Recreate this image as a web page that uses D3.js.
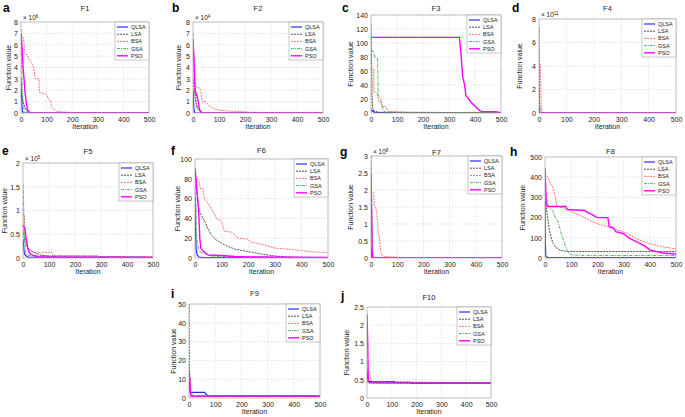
<!DOCTYPE html>
<html>
<head>
<meta charset="utf-8">
<script src="https://cdn.jsdelivr.net/npm/d3@7"></script>
<style>
  body { margin: 0; background: #fff; font-family: "Liberation Sans", Arial, sans-serif; }
</style>
</head>
<body>
<div id="chart"></div>
<script>
// Series names and iteration ticks
const seriesNames = ["QLSA", "LSA", "BSA", "GSA", "PSO"];
const xTicks = [0, 100, 200, 300, 400, 500];

// Convergence curves: [iteration, value]
const f1 = {
  QLSA: [[0,3],[2,1.5],[5,0.2],[10,0],[500,0]],
  LSA: [[0,2],[3,1.5],[8,1],[15,0.5],[25,0.1],[40,0],[500,0]],
  BSA: [[0,6.9],[5,6.8],[10,6.5],[15,5.2],[25,5.1],[30,4.7],[40,4.5],[45,4.2],[50,4.0],[55,3.0],[70,3.0],[72,1.8],[95,1.7],[100,1.6],[105,1.3],[115,1.1],[120,0.5],[130,0.3],[140,0.15],[160,0.1],[200,0.05],[220,0],[500,0]],
  GSA: [[0,7.4],[3,4],[5,2],[10,0.5],[15,0.1],[20,0],[500,0]],
  PSO: [[0,7],[5,5.5],[8,4],[12,3],[15,2],[20,1],[25,0.3],[30,0.1],[40,0],[500,0]]
};
const f2 = {
  QLSA: [[0,2],[3,0.5],[6,0],[500,0]],
  LSA: [[0,3],[5,2],[10,1],[15,0.5],[25,0.2],[35,0],[500,0]],
  BSA: [[0,6.5],[3,5],[5,3.5],[8,2.3],[20,2.3],[30,2.0],[35,1.0],[50,1.0],[60,0.7],[70,0.5],[90,0.3],[120,0.2],[150,0.15],[200,0.1],[250,0.05],[500,0.05]],
  GSA: [[0,7],[3,5],[5,3],[8,2],[12,1],[20,0.3],[30,0.1],[40,0],[500,0]],
  PSO: [[0,6.5],[3,5],[5,4],[8,2],[15,1.5],[20,1],[25,0.3],[30,0.1],[40,0],[500,0]]
};
const f3 = {
  QLSA: [[0,5],[5,3],[15,1],[30,0.5],[500,0.3]],
  LSA: [[0,128],[2,80],[4,30],[6,8],[10,3],[30,1],[500,0.5]],
  BSA: [[0,65],[10,62],[12,30],[25,28],[30,16],[40,15],[45,8],[55,10],[65,3],[75,2],[130,1],[200,0.5],[500,0.5]],
  GSA: [[0,90],[10,88],[15,79],[25,78],[28,25],[35,22],[40,15],[45,5],[50,2],[60,1],[500,0.5]],
  PSO: [[0,108],[340,108],[345,90],[350,65],[353,50],[355,49],[360,40],[365,25],[375,20],[380,18],[385,15],[395,12],[400,10],[410,6],[420,3],[430,2],[480,2],[495,1],[500,0]]
};
const f4 = {
  QLSA: [[0,0.5],[2,0],[500,0]],
  LSA: [[0,7.3],[1,4],[2,1],[4,0],[500,0]],
  BSA: [[0,4.1],[5,4.1],[8,0.5],[12,0.1],[20,0],[500,0]],
  GSA: [[0,2],[2,0.5],[4,0],[500,0]],
  PSO: [[0,0.3],[2,0],[500,0]]
};
const f5 = {
  QLSA: [[0,0.4],[5,0.1],[10,0.05],[20,0.02],[500,0.01]],
  LSA: [[0,0.6],[5,0.4],[10,0.3],[20,0.2],[30,0.15],[50,0.1],[70,0.06],[100,0.04],[150,0.02],[300,0.01],[500,0.01]],
  BSA: [[0,0.95],[5,0.9],[10,0.4],[15,0.3],[20,0.2],[30,0.15],[40,0.12],[110,0.12],[115,0.05],[290,0.05],[295,0.03],[500,0.03]],
  GSA: [[0,1.55],[3,1.0],[5,0.5],[8,0.2],[12,0.1],[20,0.05],[500,0.02]],
  PSO: [[0,0.7],[8,0.6],[12,0.4],[15,0.35],[18,0.2],[25,0.1],[40,0.05],[60,0.03],[100,0.02],[500,0.01]]
};
const f6 = {
  QLSA: [[0,62],[2,30],[4,10],[8,3],[15,1],[30,0.5],[500,0.3]],
  LSA: [[0,90],[5,70],[10,60],[15,50],[20,45],[30,40],[40,35],[50,29],[60,24],[70,21],[80,18],[100,15],[120,12],[150,9],[200,6.5],[250,4],[300,2],[350,1],[400,0.5],[500,0.3]],
  BSA: [[0,88],[5,80],[15,78],[20,70],[30,70],[35,60],[50,55],[60,50],[70,46],[80,40],[100,37],[110,27],[140,26],[160,20],[200,19],[210,16],[250,14],[300,10],[350,9],[400,7.5],[450,6],[500,5.5]],
  GSA: [[0,85],[3,60],[5,30],[8,15],[15,8],[20,6],[40,4],[60,2],[100,1.5],[500,0.5]],
  PSO: [[0,91],[5,75],[10,60],[15,40],[18,20],[22,10],[30,7],[50,3],[100,2.5],[150,1.5],[200,1],[500,0.5]]
};
const f7 = {
  QLSA: [[0,0.3],[3,0],[500,0]],
  LSA: [[0,2.3],[3,1],[5,0.2],[8,0],[500,0]],
  BSA: [[0,2.0],[5,1.95],[10,1.9],[13,1.55],[18,1.5],[22,1.3],[28,0.7],[32,0.65],[35,0.3],[40,0.1],[50,0.05],[100,0.02],[120,0],[500,0]],
  GSA: [[0,3.0],[3,1.5],[5,0.3],[8,0],[500,0]],
  PSO: [[0,2.5],[2,1.5],[4,0.3],[6,0],[500,0]]
};
const f8 = {
  QLSA: [[0,280],[1,100],[3,10],[10,3],[500,2]],
  LSA: [[0,295],[5,250],[10,200],[15,150],[20,120],[25,95],[30,75],[40,55],[50,45],[60,38],[80,33],[90,32],[500,32]],
  BSA: [[0,420],[10,400],[20,370],[30,350],[40,300],[45,255],[80,245],[100,230],[150,200],[180,180],[200,170],[250,150],[300,130],[330,110],[350,95],[400,70],[450,55],[500,45]],
  GSA: [[0,350],[5,300],[10,275],[15,255],[30,235],[40,200],[50,180],[60,130],[70,90],[80,50],[90,25],[100,15],[150,13],[500,12]],
  PSO: [[0,445],[5,270],[10,255],[80,255],[85,240],[150,235],[200,200],[240,200],[245,155],[260,150],[270,130],[300,120],[320,100],[350,80],[380,60],[400,40],[450,25],[500,20]]
};
const f9 = {
  QLSA: [[0,14],[3,5],[5,3],[60,3],[65,2],[75,1],[500,1]],
  LSA: [[0,50],[1,20],[3,5],[5,2],[10,1],[500,1]],
  BSA: [[0,14],[5,10],[8,2],[15,2],[20,1],[500,1]],
  GSA: [[0,14],[3,13],[5,5],[8,1],[500,1]],
  PSO: [[0,13],[3,10],[5,3],[8,1],[500,1]]
};
const f10 = {
  QLSA: [[0,0.8],[3,0.5],[10,0.45],[110,0.45],[115,0.43],[175,0.43],[176,0.41],[500,0.41]],
  LSA: [[0,0.45],[20,0.42],[50,0.41],[500,0.41]],
  BSA: [[0,0.7],[5,0.75],[10,0.7],[15,0.5],[20,0.45],[500,0.41]],
  GSA: [[0,0.45],[10,0.43],[500,0.41]],
  PSO: [[0,2.3],[3,1.5],[5,0.5],[10,0.42],[500,0.41]]
};

// Y tick labels per panel
const yTicks1 = [0,1,2,3,4,5,6,7,8];
const yTicks3 = [0,20,40,60,80,100,120,140];
const yTicks4 = [0,2,4,6,8];
const yTicks5 = [0,0.5,1,1.5,2];
const yTicks6 = [0,20,40,60,80,100];
const yTicks7 = [0,0.5,1,1.5,2,2.5,3];
const yTicks8 = [0,100,200,300,400,500];
const yTicks9 = [0,10,20,30,40,50];
const yTicks10 = [0,0.5,1,1.5,2,2.5];

// Panel layout: plot box, title baseline, letter position, y-label centre
const panels = [
  { letter: "a", title: "F1", data: f1, ticks: yTicks1, exp: "6",  x0: 21,  x1: 149, y0: 22,  y1: 113, ty: 11,  lx: 3,   ly: 12,  lab: 8 },
  { letter: "b", title: "F2", data: f2, ticks: yTicks1, exp: "4",  x0: 193, x1: 323, y0: 22,  y1: 113, ty: 11,  lx: 172, ly: 12,  lab: 178 },
  { letter: "c", title: "F3", data: f3, ticks: yTicks3, exp: null, x0: 371, x1: 501, y0: 15,  y1: 113, ty: 11,  lx: 342, ly: 12,  lab: 350 },
  { letter: "d", title: "F4", data: f4, ticks: yTicks4, exp: "11", x0: 539, x1: 676, y0: 19,  y1: 113, ty: 11,  lx: 512, ly: 12,  lab: 519 },
  { letter: "e", title: "F5", data: f5, ticks: yTicks5, exp: "5",  x0: 23,  x1: 153, y0: 163, y1: 258, ty: 154, lx: 2,   ly: 155, lab: 4 },
  { letter: "f", title: "F6", data: f6, ticks: yTicks6, exp: null, x0: 195, x1: 328, y0: 159, y1: 258, ty: 153, lx: 171, ly: 155, lab: 177 },
  { letter: "g", title: "F7", data: f7, ticks: yTicks7, exp: "8",  x0: 371, x1: 502, y0: 156, y1: 258, ty: 155, lx: 340, ly: 156, lab: 350 },
  { letter: "h", title: "F8", data: f8, ticks: yTicks8, exp: null, x0: 545, x1: 676, y0: 157, y1: 258, ty: 154, lx: 510, ly: 156, lab: 522 },
  { letter: "i", title: "F9", data: f9, ticks: yTicks9, exp: null, x0: 189, x1: 320, y0: 304, y1: 398, ty: 296, lx: 171, ly: 298, lab: 173 },
  { letter: "j", title: "F10", data: f10, ticks: yTicks10, exp: null, x0: 367, x1: 491, y0: 307, y1: 398, ty: 300, lx: 341, ly: 300, lab: 346 }
];

const styles = {
  QLSA: { color: "#2b2bff", dash: null, width: 1.2 },
  LSA:  { color: "#222222", dash: "2,1", width: 0.8 },
  BSA:  { color: "#ff5050", dash: "2,1", width: 0.8 },
  GSA:  { color: "#22a040", dash: "3,1,1,1", width: 0.8 },
  PSO:  { color: "#ff00ff", dash: null, width: 1.4 }
};

const svg = d3.select("#chart")
  .append("svg")
  .attr("width", 685)
  .attr("height", 417);

panels.forEach(function(p, idx) {
  const yMax = p.ticks[p.ticks.length - 1];
  const x = d3.scaleLinear().domain([0, 500]).range([p.x0, p.x1]);
  const y = d3.scaleLinear().domain([0, yMax]).range([p.y1, p.y0]);
  const g = svg.append("g");

  // grid
  g.selectAll(".vg").data(xTicks.slice(1, -1)).enter().append("line")
    .attr("x1", d => x(d)).attr("x2", d => x(d))
    .attr("y1", p.y0).attr("y2", p.y1)
    .style("stroke", "#d0d0d0").style("stroke-width", 0.6).style("stroke-dasharray", "1.5,1.5");
  g.selectAll(".hg").data(p.ticks.slice(1, -1)).enter().append("line")
    .attr("y1", d => y(d)).attr("y2", d => y(d))
    .attr("x1", p.x0).attr("x2", p.x1)
    .style("stroke", "#d0d0d0").style("stroke-width", 0.6).style("stroke-dasharray", "1.5,1.5");

  // clip
  svg.append("clipPath").attr("id", "clip" + idx)
    .append("rect").attr("x", p.x0).attr("y", p.y0 - 1)
    .attr("width", p.x1 - p.x0).attr("height", p.y1 - p.y0 + 1);

  const line = d3.line().x(d => x(d[0])).y(d => y(d[1]));
  seriesNames.forEach(function(name) {
    const s = styles[name];
    g.append("path")
      .attr("clip-path", "url(#clip" + idx + ")")
      .attr("d", line(p.data[name]))
      .style("fill", "none")
      .style("stroke", s.color)
      .style("stroke-width", s.width)
      .style("stroke-dasharray", s.dash);
  });

  // frame
  g.append("rect")
    .attr("x", p.x0).attr("y", p.y0)
    .attr("width", p.x1 - p.x0).attr("height", p.y1 - p.y0)
    .style("fill", "none").style("stroke", "#a0a0a0").style("stroke-width", 0.7);

  // axes
  const xa = g.append("g")
    .attr("transform", `translate(0,${p.y1})`)
    .call(d3.axisBottom(x).tickValues(xTicks).tickSize(0).tickPadding(4));
  const ya = g.append("g")
    .attr("transform", `translate(${p.x0},0)`)
    .call(d3.axisLeft(y).tickValues(p.ticks).tickSize(0).tickPadding(3).tickFormat(d3.format("~g")));
  [xa, ya].forEach(a => {
    a.select(".domain").remove();
    a.selectAll("text").style("font-size", "7px").style("fill", "#222")
      .style("font-family", "Liberation Sans, Arial, sans-serif");
  });

  // exponent label
  if (p.exp) {
    const t = g.append("text")
      .attr("x", p.x0 + 2).attr("y", p.y0 - 2)
      .style("font-size", "6.5px").style("fill", "#222")
      .text("× 10");
    t.append("tspan").attr("dy", -2.5).style("font-size", "4.5px").text(p.exp);
  }

  // title
  g.append("text")
    .attr("x", (p.x0 + p.x1) / 2).attr("y", p.ty)
    .attr("text-anchor", "middle")
    .style("font-size", "7.5px").style("fill", "#222")
    .text(p.title);

  // axis labels
  g.append("text")
    .attr("x", (p.x0 + p.x1) / 2).attr("y", p.y1 + 16)
    .attr("text-anchor", "middle")
    .style("font-size", "7px").style("fill", "#222")
    .text("Iteration");
  g.append("text")
    .attr("transform", `translate(${p.lab + 2.5},${(p.y0 + p.y1) / 2}) rotate(-90)`)
    .attr("text-anchor", "middle")
    .style("font-size", "7px").style("fill", "#222")
    .text("Function value");

  // panel letter
  g.append("text")
    .attr("x", p.lx).attr("y", p.ly)
    .style("font-size", "12px").style("font-weight", "bold").style("fill", "#000")
    .text(p.letter);

  // legend
  const lw = 34, lh = 38;
  const lg = g.append("g").attr("transform", `translate(${p.x1 - lw},${p.y0})`);
  lg.append("rect").attr("width", lw).attr("height", lh)
    .style("fill", "#fff").style("stroke", "#a0a0a0").style("stroke-width", 0.6);
  seriesNames.forEach(function(name, i) {
    const s = styles[name];
    const yy = 5 + i * 7.2;
    lg.append("line")
      .attr("x1", 2).attr("x2", 13).attr("y1", yy).attr("y2", yy)
      .style("stroke", s.color).style("stroke-width", s.width)
      .style("stroke-dasharray", s.dash);
    lg.append("text")
      .attr("x", 16).attr("y", yy + 2)
      .style("font-size", "5.5px").style("fill", "#222")
      .text(name);
  });
});
</script>
</body>
</html>
